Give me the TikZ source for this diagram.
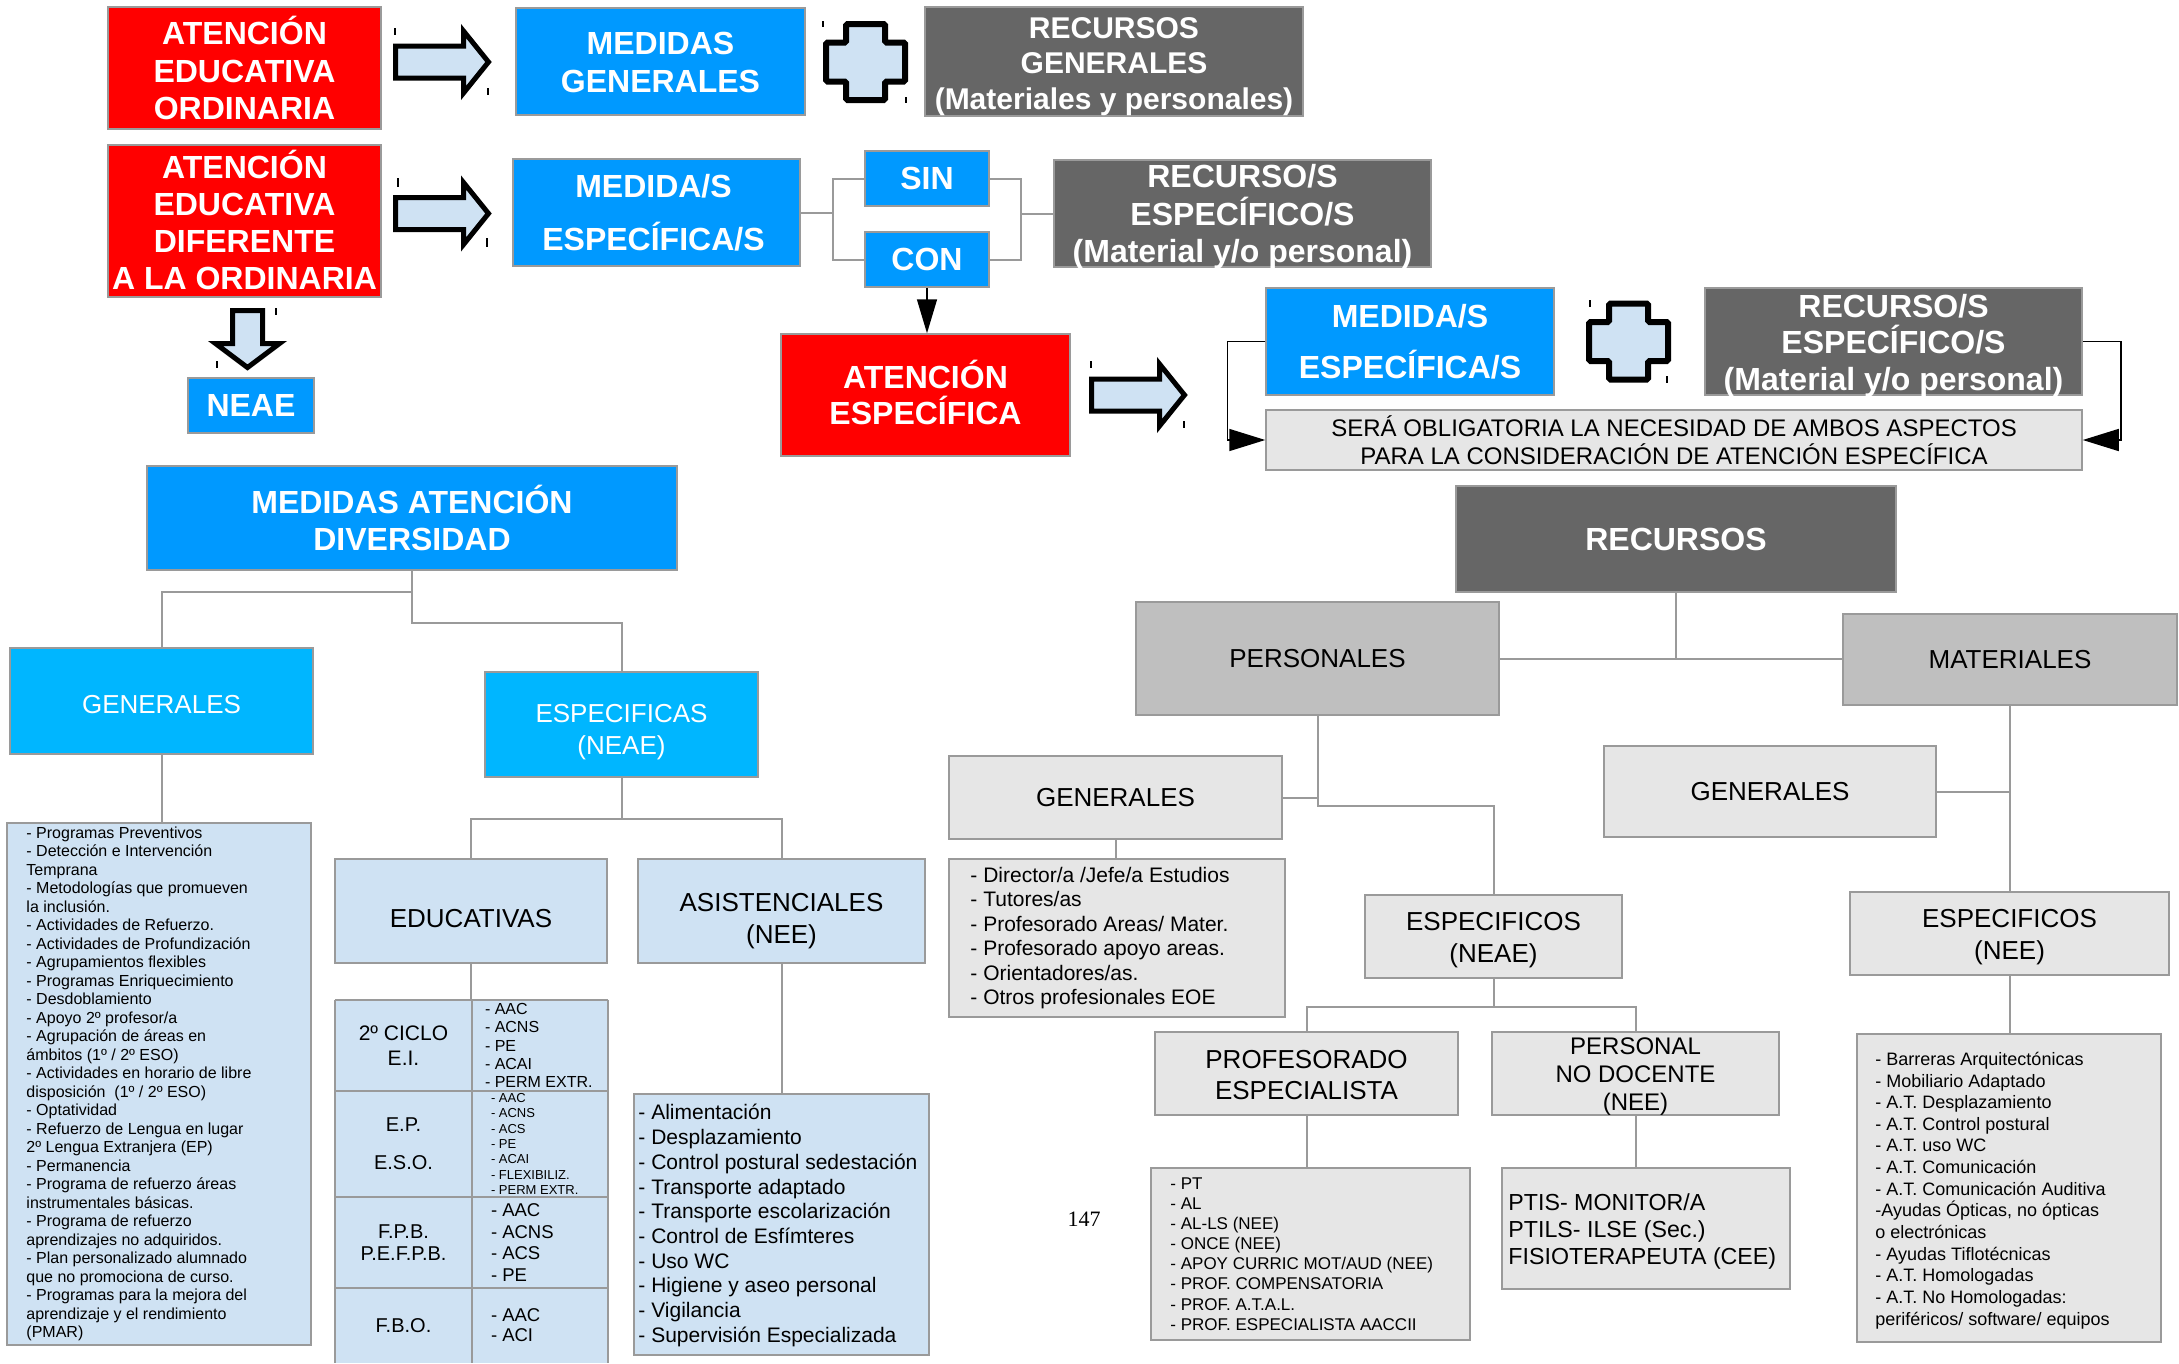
\documentclass[tikz,border=0pt]{standalone}
\usepackage{fontspec}
\setmainfont{Liberation Sans}
\newfontfamily\serifpn{Liberation Serif}
\usetikzlibrary{arrows.meta,calc}
\definecolor{redc}{HTML}{FF0000}
\definecolor{bluec}{HTML}{0099FF}
\definecolor{cyanc}{HTML}{00B6FF}
\definecolor{dgray}{HTML}{666666}
\definecolor{mgray}{HTML}{BFBFBF}
\definecolor{lgray}{HTML}{E6E6E6}
\definecolor{lblue}{HTML}{CFE2F3}
\definecolor{bordc}{HTML}{9A9A9A}
\newcommand{\fs}[2]{\fontsize{#1}{#2}\selectfont}
% box with centred text
\newcommand{\bx}[8]{\node[#6, minimum width={#4-#2}, minimum height={#5-#3}] (#1) at ({(#2+#4)/2},{(#3+#5)/2}) {}; \node[#7] (#1t) at (#1.center) {#8};}
% box with left-aligned list text (pad = #7)
\newcommand{\lbx}[9]{\node[#6, minimum width={#4-#2}, minimum height={#5-#3}] (#1) at ({(#2+#4)/2},{(#3+#5)/2}) {}; \node[lt, #8] (#1t) at ($(#1.west)+(#7,0)$) {#9};}
\tikzset{
 box/.style={draw=bordc, line width=1.5pt, inner sep=0pt},
 redb/.style={box, fill=redc},
 blueb/.style={box, fill=bluec},
 dgb/.style={box, fill=dgray},
 cyb/.style={box, fill=cyanc},
 lb/.style={box, fill=lgray},
 mb/.style={box, fill=mgray},
 bb/.style={box, fill=lblue},
 cell/.style={fill=lblue, inner sep=0pt},
 txt/.style={inner sep=0pt, align=center},
 wt/.style={txt, text=white, font=\bfseries\fs{32}{37.5}},
 wr/.style={txt, text=white, font=\fs{26}{32}},
 kt/.style={txt, text=black, font=\fs{26}{32}},
 lt/.style={inner sep=0pt, align=left, text=black, anchor=west},
 conn/.style={draw=bordc, line width=2pt},
 grid/.style={draw=bordc, line width=1.5pt},
 blk/.style={draw=black, line width=1.5pt},
 tick/.style={draw=black, line width=1.5pt},
 rarr/.pic={\draw[line width=5pt, fill=lblue, line join=miter] (0,-16)--(68,-16)--(68,-31)--(93,0)--(68,31)--(68,16)--(0,16)--cycle;},
 darr/.pic={\draw[line width=5pt, fill=lblue, line join=miter] (-15,0)--(15,0)--(15,33)--(32,33)--(0,57)--(-32,33)--(-15,33)--cycle;},
 plusshape/.pic={\draw[line width=6pt, fill=lblue, rounded corners=1.5pt] (-19.5,-38)--(19.5,-38)--(19.5,-19.5)--(39.5,-19.5)--(39.5,19.5)--(19.5,19.5)--(19.5,38)--(-19.5,38)--(-19.5,19.5)--(-39.5,19.5)--(-39.5,-19.5)--(-19.5,-19.5)--cycle;},
}
\begin{document}
\begin{tikzpicture}[x=1pt,y=-1pt]
\fill[white] (0,0) rectangle (2179,1363);
\useasboundingbox (0,0) rectangle (2179,1363);

% ---- top rows
\bx{aeo}{108}{7}{381}{129}{redb}{wt}{ATENCIÓN\\EDUCATIVA\\ORDINARIA}
\bx{mg}{516}{8}{805}{115}{blueb}{wt, yshift=-1pt}{MEDIDAS\\GENERALES}
\bx{rg}{925}{7}{1303}{116}{dgb}{wt, font=\bfseries\fs{30}{35.5}, yshift=-5pt}{RECURSOS\\GENERALES\\(Materiales y personales)}
\bx{aed}{108}{145}{381}{297}{redb}{wt, font=\bfseries\fs{32}{37}, yshift=1pt}{ATENCIÓN\\EDUCATIVA\\DIFERENTE\\A LA ORDINARIA}
\bx{me2}{513}{159}{800}{266}{blueb}{wt, font=\bfseries\fs{32}{53}, xshift=-3pt}{MEDIDA/S\\ESPECÍFICA/S}
\bx{sin}{865}{151}{989}{206}{blueb}{wt}{SIN}
\bx{con}{865}{232}{989}{287}{blueb}{wt}{CON}
\bx{rs2}{1054}{160}{1431}{267}{dgb}{wt, yshift=-3.5pt}{RECURSO/S\\ESPECÍFICO/S\\(Material y/o personal)}
\bx{neae}{188}{378}{314}{433}{blueb}{wt}{NEAE}
\bx{aesp}{781}{334}{1070}{456}{redb}{wt, font=\bfseries\fs{32}{36}, yshift=3pt}{ATENCIÓN\\ESPECÍFICA}
\bx{me3}{1266}{288}{1554}{395}{blueb}{wt, font=\bfseries\fs{32}{51.5}}{MEDIDA/S\\ESPECÍFICA/S}
\bx{rs3}{1705}{288}{2082}{395}{dgb}{wt, font=\bfseries\fs{32}{36.7}, yshift=-4pt}{RECURSO/S\\ESPECÍFICO/S\\(Material y/o personal)}
\bx{obl}{1266}{410}{2082}{470}{lb}{kt, font=\fs{24}{28}}{SERÁ OBLIGATORIA LA NECESIDAD DE AMBOS ASPECTOS\\PARA LA CONSIDERACIÓN DE ATENCIÓN ESPECÍFICA}

% block arrows and plus signs
\pic at (395.5,62) {rarr};
\pic at (395.5,213.5) {rarr};
\pic at (1091.5,395) {rarr};
\pic at (247.5,310.5) {darr};
\pic at (865.5,62) {plusshape};
\pic at (1628.5,341.5) {plusshape};
\draw[tick] (395,28) -- ++(0,7);  \draw[tick] (488,88) -- ++(0,7);
\draw[tick] (823,21) -- ++(0,6);  \draw[tick] (906,97) -- ++(0,6);
\draw[tick] (398,178) -- ++(0,9); \draw[tick] (487,238) -- ++(0,9);
\draw[tick] (276,308) -- ++(0,7); \draw[tick] (217,361) -- ++(0,7);
\draw[tick] (1091,361) -- ++(0,7); \draw[tick] (1184,421) -- ++(0,7);
\draw[tick] (1590,300) -- ++(0,7); \draw[tick] (1667,376) -- ++(0,7);

% ---- medidas tree
\bx{mad}{147}{466}{677}{570}{blueb}{wt}{MEDIDAS ATENCIÓN\\DIVERSIDAD}
\bx{gen1}{10}{648}{313}{754}{cyb}{wr, yshift=-4pt}{GENERALES}
\bx{esp1}{485}{672}{758}{777}{cyb}{wr, yshift=-7.5pt}{ESPECIFICAS\\(NEAE)}
\bx{edu}{335}{859}{607}{963}{bb}{kt, yshift=-8pt}{EDUCATIVAS}
\bx{asi}{638}{859}{925}{963}{bb}{kt, yshift=-10pt}{ASISTENCIALES\\(NEE)}

\lbx{l1}{7}{823}{311}{1345}{bb}{20}{font=\fs{16}{18.5}}{- Programas Preventivos\\- Detección e Intervención\\Temprana\\- Metodologías que promueven\\la inclusión.\\- Actividades de Refuerzo.\\- Actividades de Profundización\\- Agrupamientos flexibles\\- Programas Enriquecimiento\\- Desdoblamiento\\- Apoyo 2º profesor/a\\- Agrupación de áreas en\\ámbitos (1º / 2º ESO)\\- Actividades en horario de libre\\disposición~ (1º / 2º ESO)\\- Optatividad\\- Refuerzo de Lengua en lugar\\2º Lengua Extranjera (EP)\\- Permanencia\\- Programa de refuerzo áreas\\instrumentales básicas.\\- Programa de refuerzo\\aprendizajes no adquiridos.\\- Plan personalizado alumnado\\que no promociona de curso.\\- Programas para la mejora del\\aprendizaje y el rendimiento\\(PMAR)}

\lbx{l2}{634}{1094}{929}{1355}{bb}{5}{font=\fs{21}{24.7}, yshift=-1pt}{- Alimentación\\- Desplazamiento\\- Control postural sedestación\\- Transporte adaptado\\- Transporte escolarización\\- Control de Esfímteres\\- Uso WC\\- Higiene y aseo personal\\- Vigilancia\\- Supervisión Especializada}

% table
\bx{t1a}{335}{1000}{472}{1091}{cell}{kt, font=\fs{21}{25}}{2º CICLO\\E.I.}
\lbx{t1b}{472}{1000}{608}{1091}{cell}{13}{font=\fs{16}{18.4}}{- AAC\\- ACNS\\- PE\\- ACAI\\- PERM EXTR.}
\bx{t2a}{335}{1091}{472}{1197}{cell}{kt, font=\fs{20}{38}}{E.P.\\E.S.O.}
\lbx{t2b}{472}{1091}{608}{1197}{cell}{19}{font=\fs{13}{15.4}}{- AAC\\- ACNS\\- ACS\\- PE\\- ACAI\\- FLEXIBILIZ.\\- PERM EXTR.}
\bx{t3a}{335}{1197}{472}{1288}{cell}{kt, font=\fs{20}{22}}{F.P.B.\\P.E.F.P.B.}
\lbx{t3b}{472}{1197}{608}{1288}{cell}{19}{font=\fs{18.5}{21.7}}{- AAC\\- ACNS\\- ACS\\- PE}
\bx{t4a}{335}{1288}{472}{1363}{cell}{kt, font=\fs{20}{25}}{F.B.O.}
\lbx{t4b}{472}{1288}{608}{1363}{cell}{19}{font=\fs{18.5}{20}}{- AAC\\- ACI}
\draw[grid] (t1a.north west) -- (t1b.north east);
\draw[grid] (t1a.north west) -- (t4a.south west);
\draw[grid] (t1b.north west) -- (t4b.south west);
\draw[grid] (t1b.north east) -- (t4b.south east);
\draw[grid] (t1a.south west) -- (t1b.south east);
\draw[grid] (t2a.south west) -- (t2b.south east);
\draw[grid] (t3a.south west) -- (t3b.south east);

% ---- recursos tree
\bx{rec}{1456}{486}{1896}{592}{dgb}{wt}{RECURSOS}
\bx{pers}{1136}{602}{1499}{715}{mb}{kt}{PERSONALES}
\bx{mat}{1843}{614}{2177}{705}{mb}{kt}{MATERIALES}
\bx{gen2}{949}{756}{1282}{839}{lb}{kt}{GENERALES}
\bx{gen3}{1604}{746}{1936}{837}{lb}{kt}{GENERALES}
\bx{esp2}{1365}{895}{1622}{978}{lb}{kt, yshift=-4pt}{ESPECIFICOS\\(NEAE)}
\bx{esp3}{1850}{892}{2169}{975}{lb}{kt, yshift=-4pt}{ESPECIFICOS\\(NEE)}
\bx{prof}{1155}{1032}{1458}{1115}{lb}{kt, font=\fs{26}{30.5}, yshift=-1.5pt}{PROFESORADO\\ESPECIALISTA}
\bx{pnd}{1492}{1032}{1779}{1115}{lb}{kt, font=\fs{24}{28}, yshift=-3pt}{PERSONAL\\NO DOCENTE\\(NEE)}

\lbx{l3}{949}{859}{1285}{1017}{lb}{22}{font=\fs{21}{24.5}}{- Director/a /Jefe/a Estudios\\- Tutores/as\\- Profesorado Areas/ Mater.\\- Profesorado apoyo areas.\\- Orientadores/as.\\- Otros profesionales EOE}
\lbx{l4}{1151}{1168}{1470}{1340}{lb}{20}{font=\fs{17}{20.1}}{- PT\\- AL\\- AL-LS (NEE)\\- ONCE (NEE)\\- APOY CURRIC MOT/AUD (NEE)\\- PROF. COMPENSATORIA\\- PROF. A.T.A.L.\\- PROF. ESPECIALISTA AACCII}
\lbx{l5}{1502}{1168}{1790}{1289}{lb}{7}{font=\fs{23.2}{27}, yshift=-2.5pt}{PTIS- MONITOR/A\\PTILS- ILSE (Sec.)\\FISIOTERAPEUTA (CEE)}
\lbx{l6}{1857}{1034}{2161}{1342}{lb}{19}{font=\fs{18}{21.65}, yshift=-2.5pt}{- Barreras Arquitectónicas\\- Mobiliario Adaptado\\- A.T. Desplazamiento\\- A.T. Control postural\\- A.T. uso WC\\- A.T. Comunicación\\- A.T. Comunicación Auditiva\\-Ayudas Ópticas, no ópticas\\o electrónicas\\- Ayudas Tiflotécnicas\\- A.T. Homologadas\\- A.T. No Homologadas:\\periféricos/ software/ equipos}

\node[font=\serifpn\fs{22}{26}, inner sep=0pt] (pg) at (1084,1219) {147};

% ---- connectors
\coordinate (bl) at ($(me2.east)+(32,0)$);
\coordinate (br) at ($(rs2.west)+(-32,0)$);
\draw[conn] (me2.east) -- (bl);
\draw[conn] (sin.west) -| (bl) |- (con.west);
\draw[conn] (sin.east) -| (br) |- (con.east);
\draw[conn] (br) -- (rs2.west);
\draw[blk, -{Triangle[length=34pt,width=20pt]}] (con.south) -- (con.south |- aesp.north);
\draw[blk, -{Triangle[length=36pt,width=22pt]}] (me3.west) -- ++(-38,0) |- (obl.west);
\draw[blk, -{Triangle[length=36pt,width=22pt]}] (rs3.east) -- ++(38,0) |- (obl.east);

\draw[conn] (mad.south) -- ++(0,21) -| (gen1.north);
\draw[conn] (mad.south) -- ++(0,52) -| (esp1.north);
\draw[conn] (gen1.south) -- (gen1.south |- l1.north);
\draw[conn] (esp1.south) -- ++(0,41) -| (edu.north);
\draw[conn] (esp1.south) -- ++(0,41) -| (asi.north);
\draw[conn] (edu.south) -- (edu.south |- t1a.north);
\draw[conn] (asi.south) -- (asi.south |- l2.north);

\draw[conn] (rec.south) -- (rec.south |- pers.east);
\draw[conn] (pers.east) -- (pers.east -| mat.west);
\draw[conn] (pers.south) -- ++(0,90) -| (esp2.north);
\draw[conn] (gen2.east) -- (gen2.east -| pers.south);
\draw[conn] (gen2.south) -- (gen2.south |- l3.north);
\draw[conn] (esp2.south) -- ++(0,28) -| (prof.north);
\draw[conn] (esp2.south) -- ++(0,28) -| (pnd.north);
\draw[conn] (prof.south) -- (prof.south |- l4.north);
\draw[conn] (pnd.south) -- (pnd.south |- l5.north);
\draw[conn] (mat.south) -- (mat.south |- esp3.north);
\draw[conn] (gen3.east) -- (gen3.east -| mat.south);
\draw[conn] (esp3.south) -- (esp3.south |- l6.north);
\end{tikzpicture}
\end{document}
